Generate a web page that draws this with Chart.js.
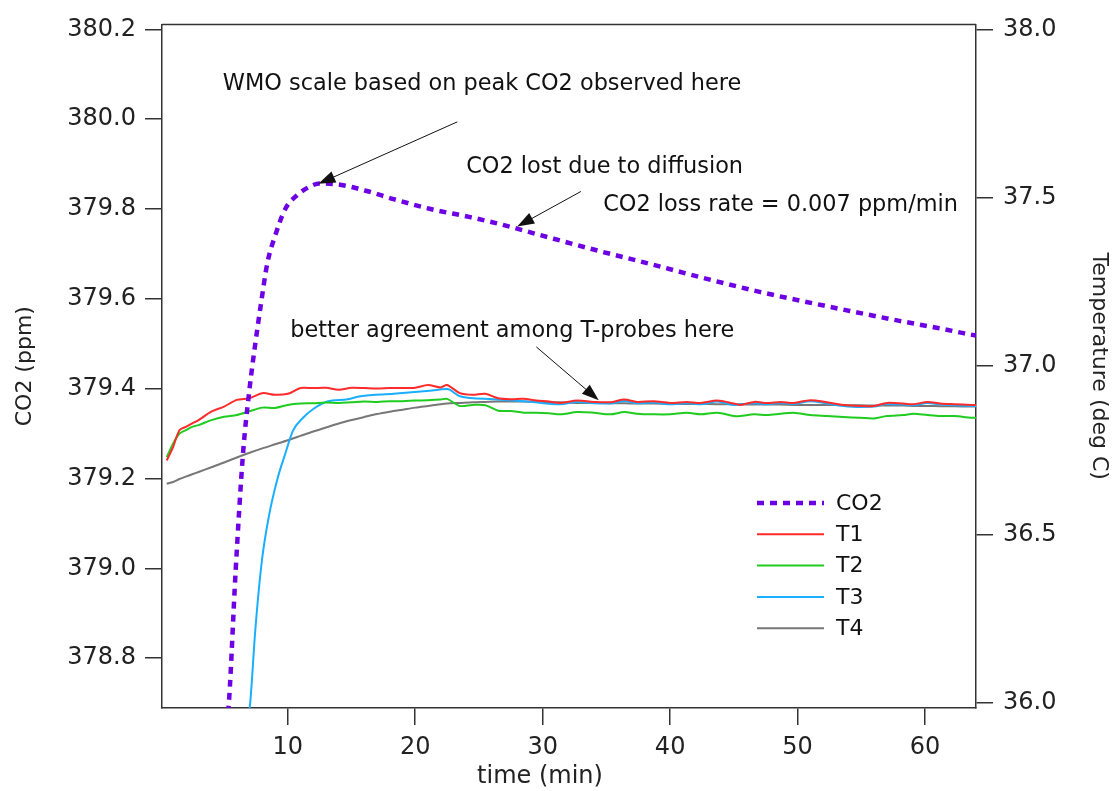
<!DOCTYPE html>
<html>
<head>
<meta charset="utf-8">
<script src="https://cdn.jsdelivr.net/npm/chart.js@4.4.1/dist/chart.umd.min.js"></script>
<style>
  html, body { margin: 0; padding: 0; background: #fff; }
  #wrap { width: 1112px; height: 791px; }
</style>
</head>
<body>
<div id="wrap"><canvas id="c" width="1112" height="791"></canvas></div>
<script>
// ---- data ----
var co2Time = [5.2, 5.4, 5.9, 6.5, 7.0, 7.45, 7.85, 8.4, 9.0, 9.8, 10.7, 11.8, 12.5, 14.1, 16.2, 18.3, 21.2, 24.3,
               26.7, 29.8, 34.5, 38.4, 42.4, 47.1, 50.2, 54.1, 58.0, 61.0, 64.0];
var co2Ppm  = [378.65, 378.71, 378.99, 379.26, 379.40, 379.50, 379.58, 379.68, 379.74, 379.80, 379.83, 379.851, 379.857, 379.854, 379.84, 379.822, 379.800, 379.782,
               379.766, 379.742, 379.706, 379.678, 379.648, 379.615, 379.596, 379.573, 379.551, 379.535, 379.518];

var tTime = [0.5, 1.0, 1.5, 2.0, 2.5, 3.0, 4.0, 5.0, 6.0, 7.0, 8.0, 9.0, 10.0, 11.0, 12.0, 13.0, 14.0, 15.0, 16.0, 17.0,
             18.0, 19.0, 20.0, 21.0, 22.0, 22.5, 23.5, 24.5, 25.5, 26.5, 27.5, 28.5, 29.5, 30.5, 31.4, 32.7, 34.0, 35.3,
             36.4, 37.4, 38.7, 40.0, 41.3, 42.4, 43.7, 45.0, 45.5, 46.6, 47.6, 48.7, 49.7, 51.0, 52.3, 53.6, 54.9, 56.0,
             57.0, 58.3, 59.1, 60.2, 61.2, 62.3, 63.6, 64.0];
var t1 = [36.72, 36.76, 36.81, 36.82, 36.83, 36.84, 36.865, 36.88, 36.90, 36.905, 36.92, 36.915, 36.918, 36.935, 36.935, 36.936, 36.93, 36.936, 36.935, 36.934,
          36.935, 36.935, 36.936, 36.944, 36.937, 36.944, 36.92, 36.915, 36.918, 36.905, 36.902, 36.903, 36.898, 36.895, 36.891, 36.898, 36.894, 36.893,
          36.901, 36.894, 36.896, 36.891, 36.894, 36.891, 36.898, 36.889, 36.885, 36.894, 36.891, 36.894, 36.891, 36.899, 36.893, 36.885, 36.882, 36.882,
          36.891, 36.889, 36.887, 36.894, 36.889, 36.887, 36.885, 36.885];
var t2 = [36.73, 36.77, 36.80, 36.81, 36.82, 36.825, 36.84, 36.85, 36.855, 36.866, 36.877, 36.876, 36.885, 36.889, 36.89, 36.892, 36.891, 36.893, 36.895, 36.894,
          36.896, 36.896, 36.898, 36.899, 36.901, 36.903, 36.882, 36.885, 36.884, 36.868, 36.867, 36.862, 36.862, 36.86, 36.857, 36.864, 36.862, 36.857,
          36.864, 36.859, 36.857, 36.857, 36.862, 36.857, 36.862, 36.852, 36.852, 36.857, 36.855, 36.859, 36.862, 36.855, 36.852, 36.849, 36.847, 36.845,
          36.852, 36.855, 36.859, 36.855, 36.852, 36.852, 36.847, 36.847];
var t4 = [36.651, 36.656, 36.665, 36.672, 36.679, 36.686, 36.700, 36.714, 36.729, 36.743, 36.756, 36.768, 36.780, 36.793, 36.806, 36.818, 36.830, 36.840, 36.849, 36.858,
          36.865, 36.871, 36.877, 36.882, 36.887, 36.889, 36.891, 36.893, 36.894, 36.895, 36.895, 36.895, 36.894, 36.894, 36.893, 36.891, 36.891, 36.890,
          36.890, 36.889, 36.889, 36.888, 36.888, 36.888, 36.887, 36.887, 36.887, 36.886, 36.886, 36.886, 36.885, 36.885, 36.885, 36.884, 36.884, 36.883,
          36.883, 36.883, 36.882, 36.882, 36.881, 36.881, 36.880, 36.880];

var t3Time = [6.95, 7.06, 7.45, 7.97, 8.5, 9.15, 9.8, 10.4, 11.2, 12.0, 13.1, 14.7, 15.7, 18.3, 20.9, 22.5, 23.5, 26.1, 28.8, 31.4,
              32.7, 34.0, 35.3, 36.4, 37.4, 38.7, 40.0, 41.3, 42.4, 43.7, 45.0, 46.6, 47.6, 48.7, 49.7, 51.0, 52.3, 53.6, 54.9, 56.0,
              57.0, 58.3, 59.1, 60.2, 61.2, 62.3, 63.6, 64.0];
var t3 = [35.97, 36.004, 36.216, 36.423, 36.551, 36.66, 36.74, 36.808, 36.847, 36.873, 36.895, 36.902, 36.911, 36.918, 36.926, 36.932, 36.911, 36.902, 36.895, 36.887,
          36.894, 36.890, 36.889, 36.897, 36.890, 36.892, 36.887, 36.890, 36.887, 36.895, 36.885, 36.890, 36.887, 36.891, 36.888, 36.896, 36.889, 36.882, 36.879, 36.880,
          36.888, 36.886, 36.884, 36.891, 36.886, 36.884, 36.882, 36.882];

var xTicks  = [10, 20, 30, 40, 50, 60];
var yTicks  = [378.8, 379.0, 379.2, 379.4, 379.6, 379.8, 380.0, 380.2];
var y2Ticks = [36.0, 36.5, 37.0, 37.5, 38.0];

var FONT = "'DejaVu Sans', Verdana, sans-serif";
var INK = '#333';

function pts(xs, ys) {
  return xs.map(function (x, i) { return { x: x, y: ys[i] }; });
}

// notes on the plot, anchored in data units (left axis)
var notes = [
  { text: 'WMO scale based on peak CO2 observed here', x: 4.9, y: 380.078 },
  { text: 'CO2 lost due to diffusion', x: 24.0, y: 379.892 },
  { text: 'CO2 loss rate = 0.007 ppm/min', x: 34.75, y: 379.808 },
  { text: 'better agreement among T-probes here', x: 10.2, y: 379.528 }
];
var arrows = [
  { from: [23.3, 379.994], to: [12.4, 379.856] },
  { from: [33.0, 379.839], to: [28.0, 379.761] },
  { from: [29.5, 379.493], to: [34.4, 379.374] }
];

var framePlugin = {
  id: 'frame',
  afterDraw: function (chart) {
    var a = chart.chartArea, ctx = chart.ctx;
    ctx.save();
    ctx.strokeStyle = INK;
    ctx.lineWidth = 1.5;
    ctx.beginPath();
    ctx.moveTo(a.left, a.top);
    ctx.lineTo(a.right, a.top);
    ctx.stroke();
    // x axis title sits under the 30 tick in the original
    ctx.fillStyle = '#222';
    ctx.font = '24px ' + FONT;
    ctx.textAlign = 'center';
    ctx.textBaseline = 'middle';
    ctx.fillText('time (min)', 540, 777);
    ctx.restore();
  }
};

var notesPlugin = {
  id: 'notes',
  afterDraw: function (chart) {
    var ctx = chart.ctx, xs = chart.scales.x, ys = chart.scales.y;
    ctx.save();
    ctx.fillStyle = '#111';
    ctx.font = '22.4px ' + FONT;
    ctx.textBaseline = 'middle';
    ctx.textAlign = 'left';
    notes.forEach(function (n) {
      ctx.fillText(n.text, xs.getPixelForValue(n.x), ys.getPixelForValue(n.y));
    });
    arrows.forEach(function (a) {
      var x0 = xs.getPixelForValue(a.from[0]), y0 = ys.getPixelForValue(a.from[1]);
      var x1 = xs.getPixelForValue(a.to[0]), y1 = ys.getPixelForValue(a.to[1]);
      var ang = Math.atan2(y1 - y0, x1 - x0);
      var hl = 17, hw = 6;
      ctx.strokeStyle = '#111';
      ctx.lineWidth = 1;
      ctx.beginPath();
      ctx.moveTo(x0, y0);
      ctx.lineTo(x1 - Math.cos(ang) * hl * 0.8, y1 - Math.sin(ang) * hl * 0.8);
      ctx.stroke();
      ctx.beginPath();
      ctx.moveTo(x1, y1);
      ctx.lineTo(x1 - Math.cos(ang) * hl - Math.sin(ang) * hw, y1 - Math.sin(ang) * hl + Math.cos(ang) * hw);
      ctx.lineTo(x1 - Math.cos(ang) * hl + Math.sin(ang) * hw, y1 - Math.sin(ang) * hl - Math.cos(ang) * hw);
      ctx.closePath();
      ctx.fillStyle = '#111';
      ctx.fill();
    });
    ctx.restore();
  }
};

// legend box inside the plot, lower right
var legendPlugin = {
  id: 'innerLegend',
  afterDraw: function (chart) {
    var ctx = chart.ctx;
    var x0 = 757, y0 = 503, gap = 31.3, len = 67;
    ctx.save();
    ctx.font = '22px ' + FONT;
    ctx.textBaseline = 'middle';
    ctx.fillStyle = '#111';
    chart.data.datasets.forEach(function (ds, i) {
      var y = y0 + i * gap;
      ctx.strokeStyle = ds.borderColor;
      ctx.lineWidth = ds.borderWidth;
      ctx.setLineDash(ds.borderDash || []);
      ctx.beginPath();
      ctx.moveTo(x0, y);
      ctx.lineTo(x0 + len, y);
      ctx.stroke();
      ctx.setLineDash([]);
      ctx.fillText(ds.label, x0 + len + 12, y + 1);
    });
    ctx.restore();
  }
};

function fixedTicks(list) {
  return function (axis) { axis.ticks = list.map(function (v) { return { value: v }; }); };
}

var tickFont = { family: FONT, size: 24 };
var titleFont = { family: FONT, size: 22 };

new Chart(document.getElementById('c'), {
  type: 'line',
  data: {
    datasets: [
      { label: 'CO2', data: pts(co2Time, co2Ppm), yAxisID: 'y', borderColor: '#6e00e4', borderWidth: 4.5,
        borderDash: [7, 6], pointRadius: 0, cubicInterpolationMode: 'monotone' },
      { label: 'T1', data: pts(tTime, t1), yAxisID: 'y2', borderColor: '#ff2a2a', borderWidth: 2, pointRadius: 0, tension: 0.3 },
      { label: 'T2', data: pts(tTime, t2), yAxisID: 'y2', borderColor: '#1fcc1f', borderWidth: 2, pointRadius: 0, tension: 0.3 },
      { label: 'T3', data: pts(t3Time, t3), yAxisID: 'y2', borderColor: '#1aaeff', borderWidth: 2, pointRadius: 0, cubicInterpolationMode: 'monotone' },
      { label: 'T4', data: pts(tTime, t4), yAxisID: 'y2', borderColor: '#777777', borderWidth: 2, pointRadius: 0, tension: 0.3 }
    ]
  },
  options: {
    responsive: false,
    animation: false,
    devicePixelRatio: 1,
    layout: { padding: { top: 22, left: 0, right: 0, bottom: 0 } },
    plugins: { legend: { display: false }, tooltip: { enabled: false } },
    scales: {
      x: {
        type: 'linear', min: 0.13, max: 64,
        afterBuildTicks: fixedTicks(xTicks),
        afterFit: function (s) { s.height = 83; },
        grid: { drawOnChartArea: false, tickLength: 17, color: INK, lineWidth: 1.5 },
        border: { color: INK, width: 1.5 },
        ticks: { color: '#222', font: tickFont, padding: 8, maxRotation: 0 },
        title: { display: false }
      },
      y: {
        type: 'linear', position: 'left', min: 378.689, max: 380.211,
        afterBuildTicks: fixedTicks(yTicks),
        afterFit: function (s) { s.width = 162; },
        grid: { drawOnChartArea: false, tickLength: 17, color: INK, lineWidth: 1.5 },
        border: { color: INK, width: 1.5 },
        ticks: { color: '#222', font: tickFont, padding: 9, callback: function (v) { return v.toFixed(1); } },
        title: { display: true, text: 'CO2 (ppm)', color: '#222', font: titleFont, padding: { top: 12, bottom: 0 } }
      },
      y2: {
        type: 'linear', position: 'right', min: 35.985, max: 38.015,
        afterBuildTicks: fixedTicks(y2Ticks),
        afterFit: function (s) { s.width = 136; },
        grid: { drawOnChartArea: false, tickLength: 17, color: INK, lineWidth: 1.5 },
        border: { color: INK, width: 1.5 },
        ticks: { color: '#222', font: tickFont, padding: 10, callback: function (v) { return v.toFixed(1); } },
        title: { display: true, text: 'Temperature (deg C)', color: '#222', font: titleFont, padding: { top: 0, bottom: 0 } }
      }
    }
  },
  plugins: [framePlugin, notesPlugin, legendPlugin]
});
</script>
</body>
</html>
